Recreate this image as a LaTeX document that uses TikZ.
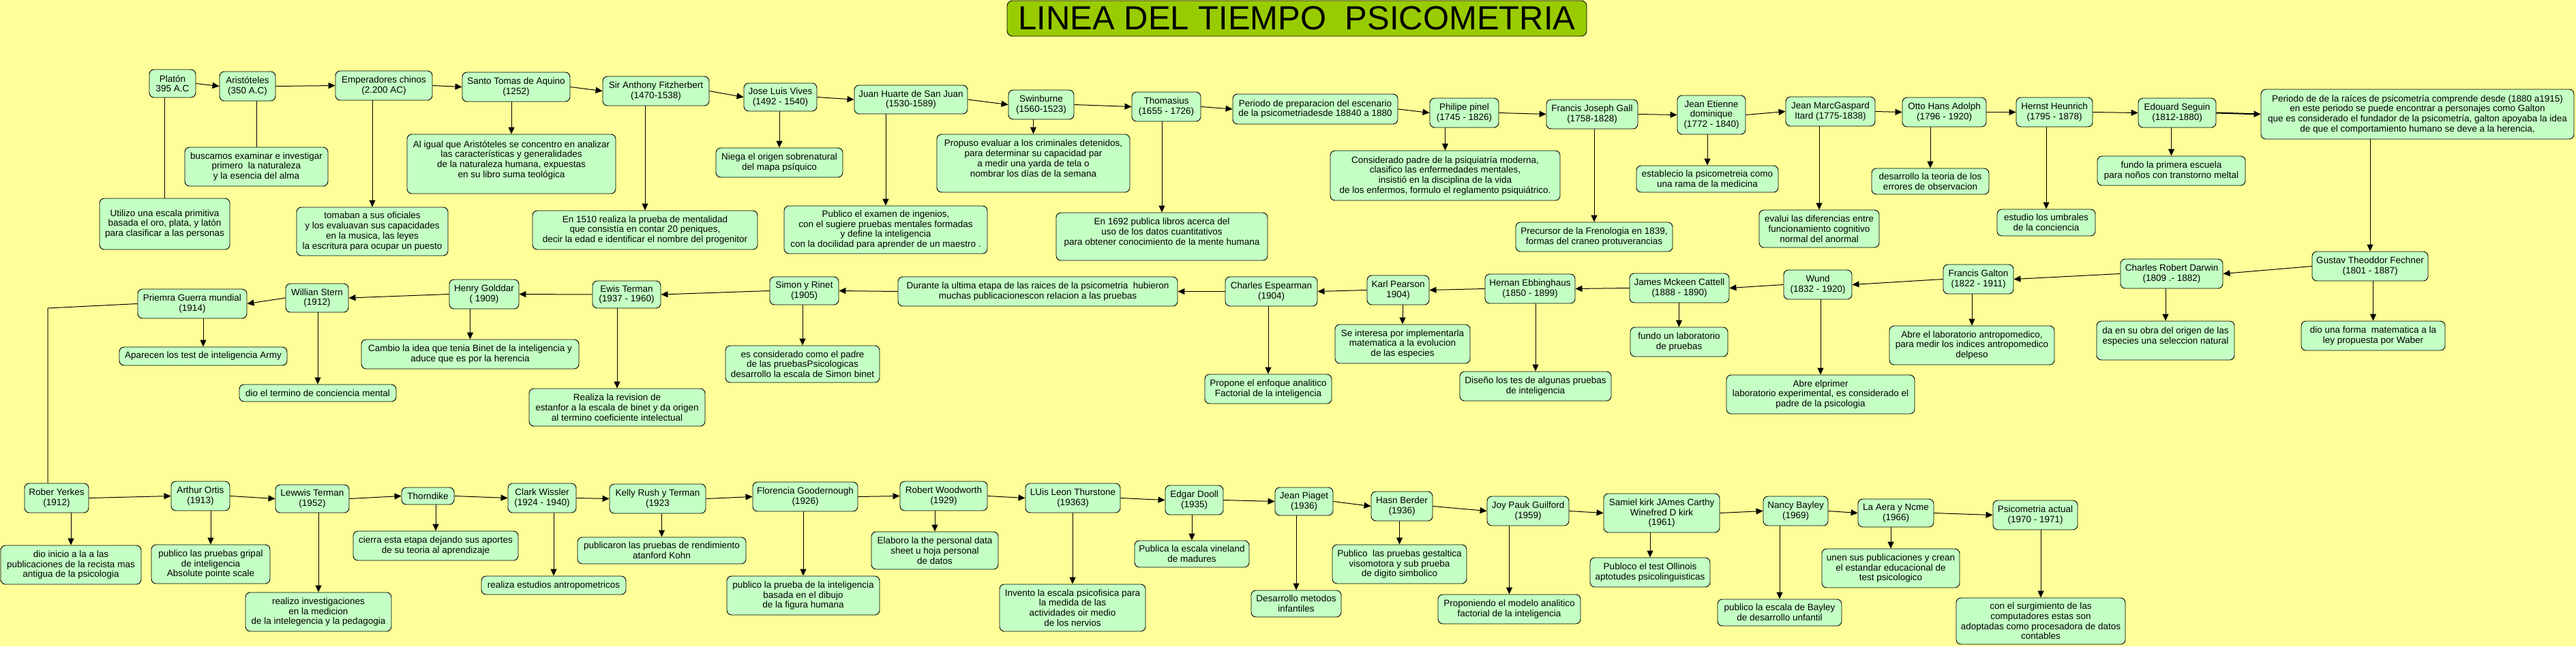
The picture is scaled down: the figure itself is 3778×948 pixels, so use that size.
\documentclass[tikz,border=0pt]{standalone}
\usepackage{fontspec}
\setmainfont{Liberation Sans}
\usetikzlibrary{arrows.meta,calc}
\definecolor{bgyellow}{HTML}{FFFF99}
\definecolor{boxgreen}{HTML}{C4FFC4}
\definecolor{titlegreen}{HTML}{99CC00}
\tikzset{
  box/.style={draw=black, line width=0.9pt, fill=boxgreen, rounded corners=7pt, align=center, inner sep=0pt, font=\fontsize{13.5}{14.7}\selectfont},
  arr/.style={-{Triangle[length=10pt,width=9pt]}, line width=1pt, draw=black},
  ln/.style={line width=1pt, draw=black},
}
\newcommand{\mybox}[6]{\node[box, minimum width={(#4)-(#2)}, minimum height={(#5)-(#3)}] (#1) at ({((#2)+(#4))/2},{((#3)+(#5))/2}) {#6};}
\newcommand{\connR}[2]{\draw[arr] (#1.east) -- (#2.west);}
\newcommand{\connL}[2]{\draw[arr] (#1.west) -- (#2.east);}
\newcommand{\connD}[2]{\draw[arr] (#2.north |- #1.south) -- (#2.north);}
\newcommand{\connDL}[2]{\draw[ln] (#2.north |- #1.south) -- (#2.north);}
\begin{document}
\begin{tikzpicture}[x=1pt,y=-1pt]
\fill[bgyellow] (0,0) rectangle (3778,948);
\useasboundingbox (0,0) rectangle (3778,948);

% title
\node[draw=black, line width=0.9pt, fill=titlegreen, rounded corners=8pt, minimum width=850pt, minimum height=52pt, inner sep=0pt, font=\fontsize{49}{50}\selectfont] (title) at (1902,27) {LINEA DEL TIEMPO\ \ PSICOMETRIA};

% ---------- row 1 ----------
\mybox{plat}{219}{102}{287}{143}{Platón\\395 A.C}
\mybox{arist}{322}{105}{404}{148}{Aristóteles\\(350 A.C)}
\mybox{emp}{492}{104}{634}{147}{Emperadores chinos\\(2.200 AC)}
\mybox{tomas}{678}{106}{836}{149}{Santo Tomas de Aquino\\(1252)}
\mybox{fitz}{884}{112}{1040}{155}{Sir Anthony Fitzherbert\\(1470-1538)}
\mybox{vives}{1091}{122}{1198}{163}{Jose Luis Vives\\(1492 - 1540)}
\mybox{huarte}{1253}{125}{1419}{167}{Juan Huarte de San Juan\\(1530-1589)}
\mybox{swin}{1479}{132}{1575}{175}{Swinburne\\(1560-1523)}
\mybox{thom}{1660}{135}{1761}{178}{Thomasius\\(1655 - 1726)}
\mybox{prep}{1808}{138}{2050}{182}{Periodo de preparacion del escenario\\de la psicometriadesde 18840 a 1880}
\mybox{pinel}{2097}{144}{2198}{187}{Philipe pinel\\(1745 - 1826)}
\mybox{gall}{2268}{146}{2402}{189}{Francis Joseph Gall\\(1758-1828)}
\mybox{etienne}{2460}{140}{2560}{197}{Jean Etienne\\dominique\\(1772 - 1840)}
\mybox{itard}{2619}{142}{2750}{185}{Jean MarcGaspard\\Itard (1775-1838)}
\mybox{otto}{2790}{143}{2913}{186}{Otto Hans Adolph\\(1796 - 1920)}
\mybox{hernst}{2957}{143}{3069}{186}{Hernst Heunrich\\(1795 - 1878)}
\mybox{seguin}{3136}{144}{3250}{187}{Edouard Seguin\\(1812-1880)}
\mybox{raices}{3316}{131}{3775}{204}{Periodo de de la raíces de psicometría comprende desde (1880 a1915)\\en este periodo se puede encontrar a personajes como Galton\\que es considerado el fundador de la psicometría, galton apoyaba la idea\\de que el comportamiento humano se deve a la herencia,}

\mybox{utilizo}{146}{291}{337}{366}{Utilizo una escala primitiva\\basada el oro, plata, y latón\\para clasificar a las personas}
\mybox{busc}{271}{216}{481}{273}{buscamos examinar e investigar\\primero\ \ la naturaleza\\y la esencia del alma}
\mybox{tomab}{435}{304}{657}{375}{tomaban a sus oficiales\\y los evaluavan sus capacidades\\en la musica, las leyes\\la escritura para ocupar un puesto}
\mybox{aligual}{597}{197}{903}{284}{Al igual que Aristóteles se concentro en analizar\\las características y generalidades\\de la naturaleza humana, expuestas\\en su libro suma teológica\\~}
\mybox{en1510}{781}{309}{1111}{366}{En 1510 realiza la prueba de mentalidad\\que consistía en contar 20 peniques,\\decir la edad e identificar el nombre del progenitor}
\mybox{niega}{1050}{217}{1236}{260}{Niega el origen sobrenatural\\del mapa psíquico}
\mybox{publex}{1150}{302}{1448}{372}{Publico el examen de ingenios,\\con el sugiere pruebas mentales formadas\\y define la inteligencia\\con la docilidad para aprender de un maestro .}
\mybox{propuso}{1374}{197}{1657}{282}{Propuso evaluar a los criminales detenidos,\\para determinar su capacidad par\\a medir una yarda de tela o\\nombrar los días de la semana\\~}
\mybox{en1692}{1549}{312}{1859}{382}{En 1692 publica libros acerca del\\uso de los datos cuantitativos\\para obtener conocimiento de la mente humana\\~}
\mybox{consid}{1951}{221}{2288}{294}{Considerado padre de la psiquiatría moderna,\\clasifico las enfermedades mentales,\\insistió en la disciplina de la vida\\de los enfermos, formulo el reglamento psiquiátrico.}
\mybox{precursor}{2223}{326}{2453}{369}{Precursor de la Frenologia en 1839,\\formas del craneo protuverancias}
\mybox{establecio}{2400}{243}{2608}{282}{establecio la psicometreia como\\una rama de la medicina}
\mybox{evalui}{2580}{308}{2756}{363}{evalui las diferencias entre\\funcionamiento cognitivo\\normal del anormal}
\mybox{desarr}{2745}{247}{2917}{285}{desarrollo la teoria de los\\errores de observacion}
\mybox{estudio}{2929}{307}{3073}{346}{estudio los umbrales\\de la conciencia}
\mybox{fundoesc}{3076}{229}{3293}{272}{fundo la primera escuela\\para noños con transtorno meltal}

\connR{plat}{arist}
\connR{arist}{emp}
\connR{emp}{tomas}
\connR{tomas}{fitz}
\connR{fitz}{vives}
\connR{vives}{huarte}
\connR{huarte}{swin}
\connR{swin}{thom}
\connR{thom}{prep}
\connR{prep}{pinel}
\connR{pinel}{gall}
\connR{gall}{etienne}
\connR{etienne}{itard}
\connR{itard}{otto}
\connR{otto}{hernst}
\connR{hernst}{seguin}
\draw[arr, line width=2pt] (seguin.east) -- (raices.west);

\connDL{plat}{utilizo}
\connDL{arist}{busc}
\connD{emp}{tomab}
\connD{tomas}{aligual}
\connD{fitz}{en1510}
\connD{vives}{niega}
\connD{huarte}{publex}
\connD{swin}{propuso}
\connD{thom}{en1692}
\connD{pinel}{consid}
\connD{gall}{precursor}
\connD{etienne}{establecio}
\connD{itard}{evalui}
\connD{otto}{desarr}
\connD{hernst}{estudio}
\connD{seguin}{fundoesc}

% ---------- row 2 ----------
\mybox{gustav}{3391}{369}{3561}{412}{Gustav Theoddor Fechner\\(1801 - 1887)}
\mybox{darwin}{3110}{380}{3260}{423}{Charles Robert Darwin\\(1809 .- 1882)}
\mybox{galton}{2850}{388}{2953}{431}{Francis Galton\\(1822 - 1911)}
\mybox{abrelab}{2771}{478}{3013}{535}{Abre el laboratorio antropomedico,\\para medir los indices antropomedico\\delpeso}
\mybox{daen}{3075}{471}{3277}{528}{da en su obra del origen de las\\especies una seleccion natural\\~}
\mybox{diouna}{3375}{471}{3586}{514}{dio una forma\ \ matematica a la\\ley propuesta por Waber}
\mybox{wund}{2616}{396}{2716}{439}{Wund\\(1832 - 1920)}
\mybox{cattell}{2390}{401}{2536}{444}{James Mckeen Cattell\\(1888 - 1890)}
\mybox{ebbing}{2178}{402}{2310}{445}{Hernan Ebbinghaus\\(1850 - 1899)}
\mybox{pearson}{2005}{404}{2096}{447}{Karl Pearson\\1904)}
\mybox{seint}{1958}{476}{2156}{533}{Se interesa por implementarla\\matematica a la evolucion\\de las especies}
\mybox{diseno}{2141}{545}{2363}{588}{Diseño los tes de algunas pruebas\\de inteligencia}
\mybox{fundolab}{2391}{480}{2534}{523}{fundo un laboratorio\\de pruebas}
\mybox{abreprim}{2532}{550}{2808}{607}{Abre elprimer\\laboratorio experimental, es considerado el\\padre de la psicologia}
\mybox{espear}{1797}{406}{1932}{449}{Charles Espearman\\(1904)}
\mybox{durante}{1317}{406}{1727}{449}{Durante la ultima etapa de las raices de la psicometria\ \ hubieron\\muchas publicacionescon relacion a las pruebas}
\mybox{simon}{1129}{406}{1230}{447}{Simon y Rinet\\(1905)}
\mybox{escons}{1064}{507}{1290}{561}{es considerado como el padre\\de las pruebasPsicologicas\\desarrollo la escala de Simon binet}
\mybox{propone}{1767}{549}{1953}{592}{Propone el enfoque analitico\\Factorial de la inteligencia}
\mybox{ewis}{869}{412}{969}{452}{Ewis Terman\\(1937 - 1960)}
\mybox{henry}{659}{410}{761}{453}{Henry Golddar\\( 1909)}
\mybox{stern}{419}{416}{511}{458}{Willian Stern\\(1912)}
\mybox{guerra}{202}{424}{362}{467}{Priemra Guerra mundial\\(1914)}
\mybox{aparecen}{175}{509}{421}{536}{Aparecen los test de inteligencia Army}
\mybox{dioterm}{351}{564}{581}{589}{dio el termino de conciencia mental}
\mybox{cambio}{530}{498}{849}{541}{Cambio la idea que tenia Binet de la inteligencia y\\aduce que es por la herencia}
\mybox{realizarev}{776}{570}{1034}{625}{Realiza la revision de\\estanfor a la escala de binet y da origen\\al termino coeficiente intelectual}

\connD{raices}{gustav}
\connL{gustav}{darwin}
\connL{darwin}{galton}
\connL{galton}{wund}
\connL{wund}{cattell}
\connL{cattell}{ebbing}
\connL{ebbing}{pearson}
\connL{pearson}{espear}
\connL{espear}{durante}
\connL{durante}{simon}
\connL{simon}{ewis}
\connL{ewis}{henry}
\connL{henry}{stern}
\connL{stern}{guerra}

\connD{gustav}{diouna}
\connD{darwin}{daen}
\connD{galton}{abrelab}
\connD{wund}{abreprim}
\connD{cattell}{fundolab}
\connD{ebbing}{diseno}
\connD{pearson}{seint}
\connD{espear}{propone}
\connD{simon}{escons}
\connD{ewis}{realizarev}
\connD{henry}{cambio}
\connD{stern}{dioterm}
\connD{guerra}{aparecen}

% ---------- row 3 ----------
\mybox{yerkes}{36}{709}{130}{752}{Rober Yerkes\\(1912)}
\mybox{ortis}{251}{706}{337}{749}{Arthur Ortis\\(1913)}
\mybox{lterman}{404}{711}{512}{752}{Lewwis Terman\\(1952)}
\mybox{thorn}{589}{715}{666}{740}{Thorndike}
\mybox{wissler}{745}{709}{845}{752}{Clark Wissler\\(1924 - 1940)}
\mybox{kelly}{894}{710}{1035}{753}{Kelly Rush y Terman\\(1923}
\mybox{flor}{1104}{707}{1258}{750}{Florencia Goodernough\\(1926)}
\mybox{woodw}{1320}{706}{1448}{749}{Robert Woodworth\\(1929)}
\mybox{thurs}{1504}{709}{1643}{752}{LUis Leon Thurstone\\(19363)}
\mybox{doll}{1709}{712}{1794}{755}{Edgar Dooll\\(1935)}
\mybox{piaget}{1870}{715}{1955}{756}{Jean Piaget\\(1936)}
\mybox{berder}{2011}{721}{2101}{764}{Hasn Berder\\(1936)}
\mybox{guilf}{2181}{728}{2301}{771}{Joy Pauk Guilford\\(1959)}
\mybox{kirk}{2352}{724}{2522}{781}{Samiel kirk JAmes Carthy\\Winefred D kirk\\(1961)}
\mybox{bayley}{2586}{728}{2681}{771}{Nancy Bayley\\(1969)}
\mybox{aera}{2725}{732}{2836}{773}{La Aera y Ncme\\(1966)}
\mybox{actual}{2923}{734}{3047}{777}{Psicometria actual\\(1970 - 1971)}

\mybox{dioinicio}{1}{800}{207}{857}{dio inicio a la a las\\publicaciones de la recista mas\\antigua de la psicologia}
\mybox{gripal}{222}{799}{396}{856}{publico las pruebas gripal\\de inteligencia\\Absolute pointe scale}
\mybox{realizo}{360}{869}{574}{926}{realizo investigaciones\\en la medicion\\de la intelegencia y la pedagogia}
\mybox{cierra}{518}{779}{760}{822}{cierra esta etapa dejando sus aportes\\de su teoria al aprendizaje}
\mybox{antrop}{706}{845}{918}{872}{realiza estudios antropometricos}
\mybox{publicaron}{847}{788}{1094}{827}{publicaron las pruebas de rendimiento\\atanford Kohn}
\mybox{pubfig}{1066}{845}{1290}{902}{publico la prueba de la inteligencia\\basada en el dibujo\\de la figura humana}
\mybox{elaboro}{1278}{780}{1464}{835}{Elaboro la the personal data\\sheet u hoja personal\\de datos}
\mybox{invento}{1466}{857}{1680}{926}{Invento la escala psicofisica para\\la medida de las\\actividades oir medio\\de los nervios}
\mybox{vineland}{1664}{793}{1832}{832}{Publica la escala vineland\\de madures}
\mybox{desmet}{1835}{866}{1967}{905}{Desarrollo metodos\\infantiles}
\mybox{gestalt}{1954}{799}{2151}{856}{Publico\ \ las pruebas gestaltica\\visomotora y sub prueba\\de digito simbolico}
\mybox{propon}{2109}{872}{2318}{915}{Proponiendo el modelo analitico\\factorial de la inteligencia}
\mybox{ollinois}{2332}{818}{2508}{861}{Publoco el test Ollinois\\aptotudes psicolinguisticas}
\mybox{pubbayley}{2519}{879}{2701}{918}{publico la escala de Bayley\\de desarrollo unfantil}
\mybox{unen}{2672}{805}{2874}{862}{unen sus publicaciones y crean\\el estandar educacional de\\test psicologico}
\mybox{surg}{2869}{877}{3117}{945}{con el surgimiento de las\\computadores estas son\\adoptadas como procesadora de datos\\contables}

\coordinate (bendY) at (70,452);
\draw[ln] (guerra.west) -- (bendY) -- (bendY |- yerkes.north);

\connR{yerkes}{ortis}
\connR{ortis}{lterman}
\connR{lterman}{thorn}
\connR{thorn}{wissler}
\connR{wissler}{kelly}
\connR{kelly}{flor}
\connR{flor}{woodw}
\connR{woodw}{thurs}
\connR{thurs}{doll}
\connR{doll}{piaget}
\connR{piaget}{berder}
\connR{berder}{guilf}
\connR{guilf}{kirk}
\connR{kirk}{bayley}
\connR{bayley}{aera}
\connR{aera}{actual}

\connD{yerkes}{dioinicio}
\connD{ortis}{gripal}
\connD{lterman}{realizo}
\connD{thorn}{cierra}
\connD{wissler}{antrop}
\connD{kelly}{publicaron}
\connD{flor}{pubfig}
\connD{woodw}{elaboro}
\connD{thurs}{invento}
\connD{doll}{vineland}
\connD{piaget}{desmet}
\connD{berder}{gestalt}
\connD{guilf}{propon}
\connD{kirk}{ollinois}
\connD{bayley}{pubbayley}
\connD{aera}{unen}
\connD{actual}{surg}
\end{tikzpicture}
\end{document}
